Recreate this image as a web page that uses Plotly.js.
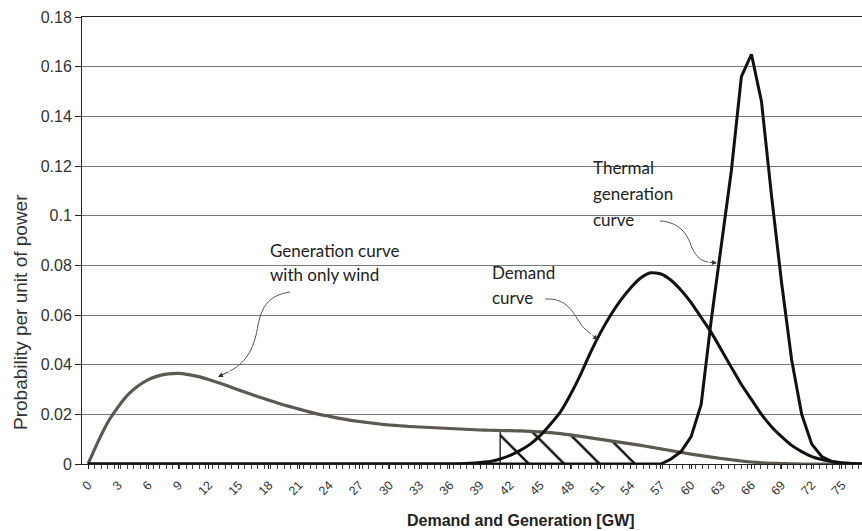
<!DOCTYPE html>
<html>
<head>
<meta charset="utf-8">
<script src="https://cdn.plot.ly/plotly-3.0.1.min.js"></script>
<style>html,body{margin:0;padding:0;background:#fff;}#chart{width:862px;height:531px;}</style>
</head>
<body>
<div id="chart"></div>
<script>
// Demand and generation (GW)
const gw = [0,1,2,3,4,5,6,7,8,9,10,11,12,13,14,15,16,17,18,19,20,21,22,23,24,25,26,27,28,29,30,31,32,33,34,35,36,37,38,39,40,41,42,43,44,45,46,47,48,49,50,51,52,53,54,55,56,57,58,59,60,61,62,63,64,65,66,67,68,69,70,71,72,73,74,75,76,77];
const tickVals = [0,3,6,9,12,15,18,21,24,27,30,33,36,39,42,45,48,51,54,57,60,63,66,69,72,75];
const tickText = ["0","3","6","9","12","15","18","21","24","27","30","33","36","39","42","45","48","51","54","57","60","63","66","69","72","75"];

const windOnly = [0,0.009,0.017,0.023,0.028,0.0315,0.034,0.0355,0.0363,0.0365,0.036,0.0352,0.034,0.0327,0.0313,0.0298,0.0284,0.027,0.0257,0.0244,0.0232,0.0221,0.021,0.02,0.0192,0.0184,0.0177,0.0171,0.0166,0.0161,0.0157,0.0154,0.0151,0.0149,0.0147,0.0145,0.0143,0.0141,0.0139,0.0137,0.0136,0.0135,0.0134,0.0133,0.0131,0.0129,0.0126,0.0122,0.0117,0.0111,0.0105,0.0099,0.0093,0.0087,0.0081,0.0075,0.0068,0.0061,0.0054,0.0047,0.004,0.0034,0.0028,0.0022,0.0017,0.0012,0.0008,0.0005,0.0003,0.0002,0.0001,0,0,0,0,0,0,0];

const demand = [0,0,0,0,0,0,0,0,0,0,0,0,0,0,0,0,0,0,0,0,0,0,0,0,0,0,0,0,0,0,0,0,0,0,0,0,0,0.0001,0.0003,0.0006,0.001,0.002,0.0035,0.0055,0.008,0.0115,0.016,0.021,0.028,0.036,0.045,0.053,0.06,0.066,0.071,0.075,0.077,0.0765,0.074,0.07,0.065,0.059,0.053,0.046,0.039,0.032,0.026,0.02,0.015,0.011,0.0075,0.005,0.003,0.0018,0.001,0.0005,0.0002,0];

const thermal = [0,0,0,0,0,0,0,0,0,0,0,0,0,0,0,0,0,0,0,0,0,0,0,0,0,0,0,0,0,0,0,0,0,0,0,0,0,0,0,0,0,0,0,0,0,0,0,0,0,0,0,0,0,0,0,0,0,0,0.002,0.005,0.011,0.024,0.058,0.088,0.118,0.156,0.165,0.146,0.108,0.073,0.042,0.02,0.008,0.003,0.001,0,0,0];

// Hatched overlap region (GW range)
const hatchFrom = 41, hatchTo = 56;

const hx = [], hy = [];
gw.forEach((g, i) => { if (g >= hatchFrom && g <= hatchTo) { hx.push(g); hy.push(windOnly[i]); } });
const iStart = gw.indexOf(hatchFrom);

// pixel helpers for annotation placement
const XR = [-0.6, 77.0], YR = [0, 0.18];
const M = {l: 82, r: 0, t: 17, b: 67};
const W = 862, H = 531;
const pw = W - M.l - M.r, ph = H - M.t - M.b;
const X = px => XR[0] + (px - M.l) / pw * (XR[1] - XR[0]);
const Y = py => YR[0] + (H - M.b - py) / ph * (YR[1] - YR[0]);
const PX = px => (px - M.l) / pw;
const PY = py => (H - M.b - py) / ph;

const traces = [
  {x: hx, y: hy, type: 'scatter', mode: 'lines', fill: 'tozeroy', fillcolor: 'rgba(0,0,0,0)',
   fillpattern: {shape: '\\', fgcolor: '#111', bgcolor: 'rgba(0,0,0,0)', size: 25, solidity: 0.1},
   line: {width: 0, color: 'rgba(0,0,0,0)'}, hoverinfo: 'skip', showlegend: false},
  {x: [hatchFrom, hatchFrom], y: [0, windOnly[iStart]], type: 'scatter', mode: 'lines',
   line: {color: '#111', width: 1.3}, hoverinfo: 'skip', showlegend: false},
  {x: gw, y: windOnly, type: 'scatter', mode: 'lines', name: 'Generation curve with only wind',
   line: {color: '#5e5852', width: 3.2, shape: 'spline', smoothing: 0.6}, showlegend: false},
  {x: gw, y: demand, type: 'scatter', mode: 'lines', name: 'Demand curve',
   line: {color: '#111', width: 3, shape: 'spline', smoothing: 0.6}, showlegend: false},
  {x: gw, y: thermal, type: 'scatter', mode: 'lines', name: 'Thermal generation curve',
   line: {color: '#111', width: 3}, showlegend: false}
];

const tf = {family: 'Lato, "Noto Sans", sans-serif', size: 17, color: '#222'};
const lbl = (txt, px, py) => ({text: txt, x: X(px), y: Y(py), xref: 'x', yref: 'y', xanchor: 'left', yanchor: 'middle', showarrow: false, font: tf});
const head = (px, py, fx, fy) => ({x: X(px), y: Y(py), ax: fx - px, ay: fy - py, xref: 'x', yref: 'y', axref: 'pixel', ayref: 'pixel', text: '', showarrow: true, arrowhead: 2, arrowsize: 1, arrowwidth: 1, arrowcolor: '#333'});
// pts: start, then groups of [c1, c2, end]
const curve = pts => {
  let d = 'M' + X(pts[0][0]) + ',' + Y(pts[0][1]);
  for (let i = 1; i + 2 < pts.length + 0; i += 3) {
    d += ' C' + [pts[i], pts[i + 1], pts[i + 2]].map(p => X(p[0]) + ',' + Y(p[1])).join(' ');
  }
  return {type: 'path', xref: 'x', yref: 'y', path: d, line: {color: '#555', width: 1}};
};

const LS = '"Liberation Sans", Arial, sans-serif';
const layout = {
  width: W, height: H,
  margin: M,
  paper_bgcolor: '#fff', plot_bgcolor: '#fff',
  font: {family: LS, color: '#333'},
  xaxis: {
    range: XR, tickmode: 'array', tickvals: tickVals, ticktext: tickText, tickangle: -45,
    tickfont: {family: LS, size: 12.5, color: '#333'}, ticks: 'outside', ticklen: 4, tickcolor: '#222',
    ticklabelstandoff: 4,
    minor: {dtick: 0.65, tick0: 0, ticks: 'outside', ticklen: 4, tickcolor: '#444', showgrid: false},
    showgrid: false, zeroline: false, showline: true, linecolor: '#222', linewidth: 1, mirror: true,
    title: {text: ''}
  },
  yaxis: {
    range: YR, dtick: 0.02, tickfont: {family: LS, size: 16, color: '#333'},
    ticks: 'outside', ticklen: 6, tickcolor: '#222', showgrid: true, gridcolor: '#777', gridwidth: 1,
    zeroline: false, showline: true, linecolor: '#222', linewidth: 1,
    title: {text: ''}
  },
  annotations: [
    {text: '<b>Demand and Generation [GW]</b>', xref: 'paper', yref: 'paper', x: PX(521), y: PY(520),
     xanchor: 'center', yanchor: 'middle', showarrow: false, font: {family: LS, size: 16, color: '#222'}},
    {text: 'Probability per unit of power', xref: 'paper', yref: 'paper', x: PX(20), y: PY(312),
     xanchor: 'center', yanchor: 'middle', textangle: -90, showarrow: false, font: {family: LS, size: 19, color: '#333'}},
    lbl('Generation curve', 268, 250), lbl('with only wind', 268, 274),
    lbl('Demand', 490, 272), lbl('curve', 490, 297),
    lbl('Thermal', 591, 167), lbl('generation', 591, 193), lbl('curve', 591, 219),
    head(218, 377, 230, 371), head(598, 340, 591, 334), head(717, 263, 708, 262)
  ],
  shapes: [
    curve([[290, 292], [270, 295], [262, 305], [258, 325], [255, 345], [248, 362], [230, 371]]),
    curve([[545, 299], [565, 298], [572, 310], [578, 320], [583, 328], [587, 331], [591, 334]]),
    curve([[660, 221], [680, 222], [688, 235], [692, 248], [697, 258], [702, 261], [708, 262]])
  ]
};

Plotly.newPlot('chart', traces, layout, {displayModeBar: false, staticPlot: true});
</script>
</body>
</html>
